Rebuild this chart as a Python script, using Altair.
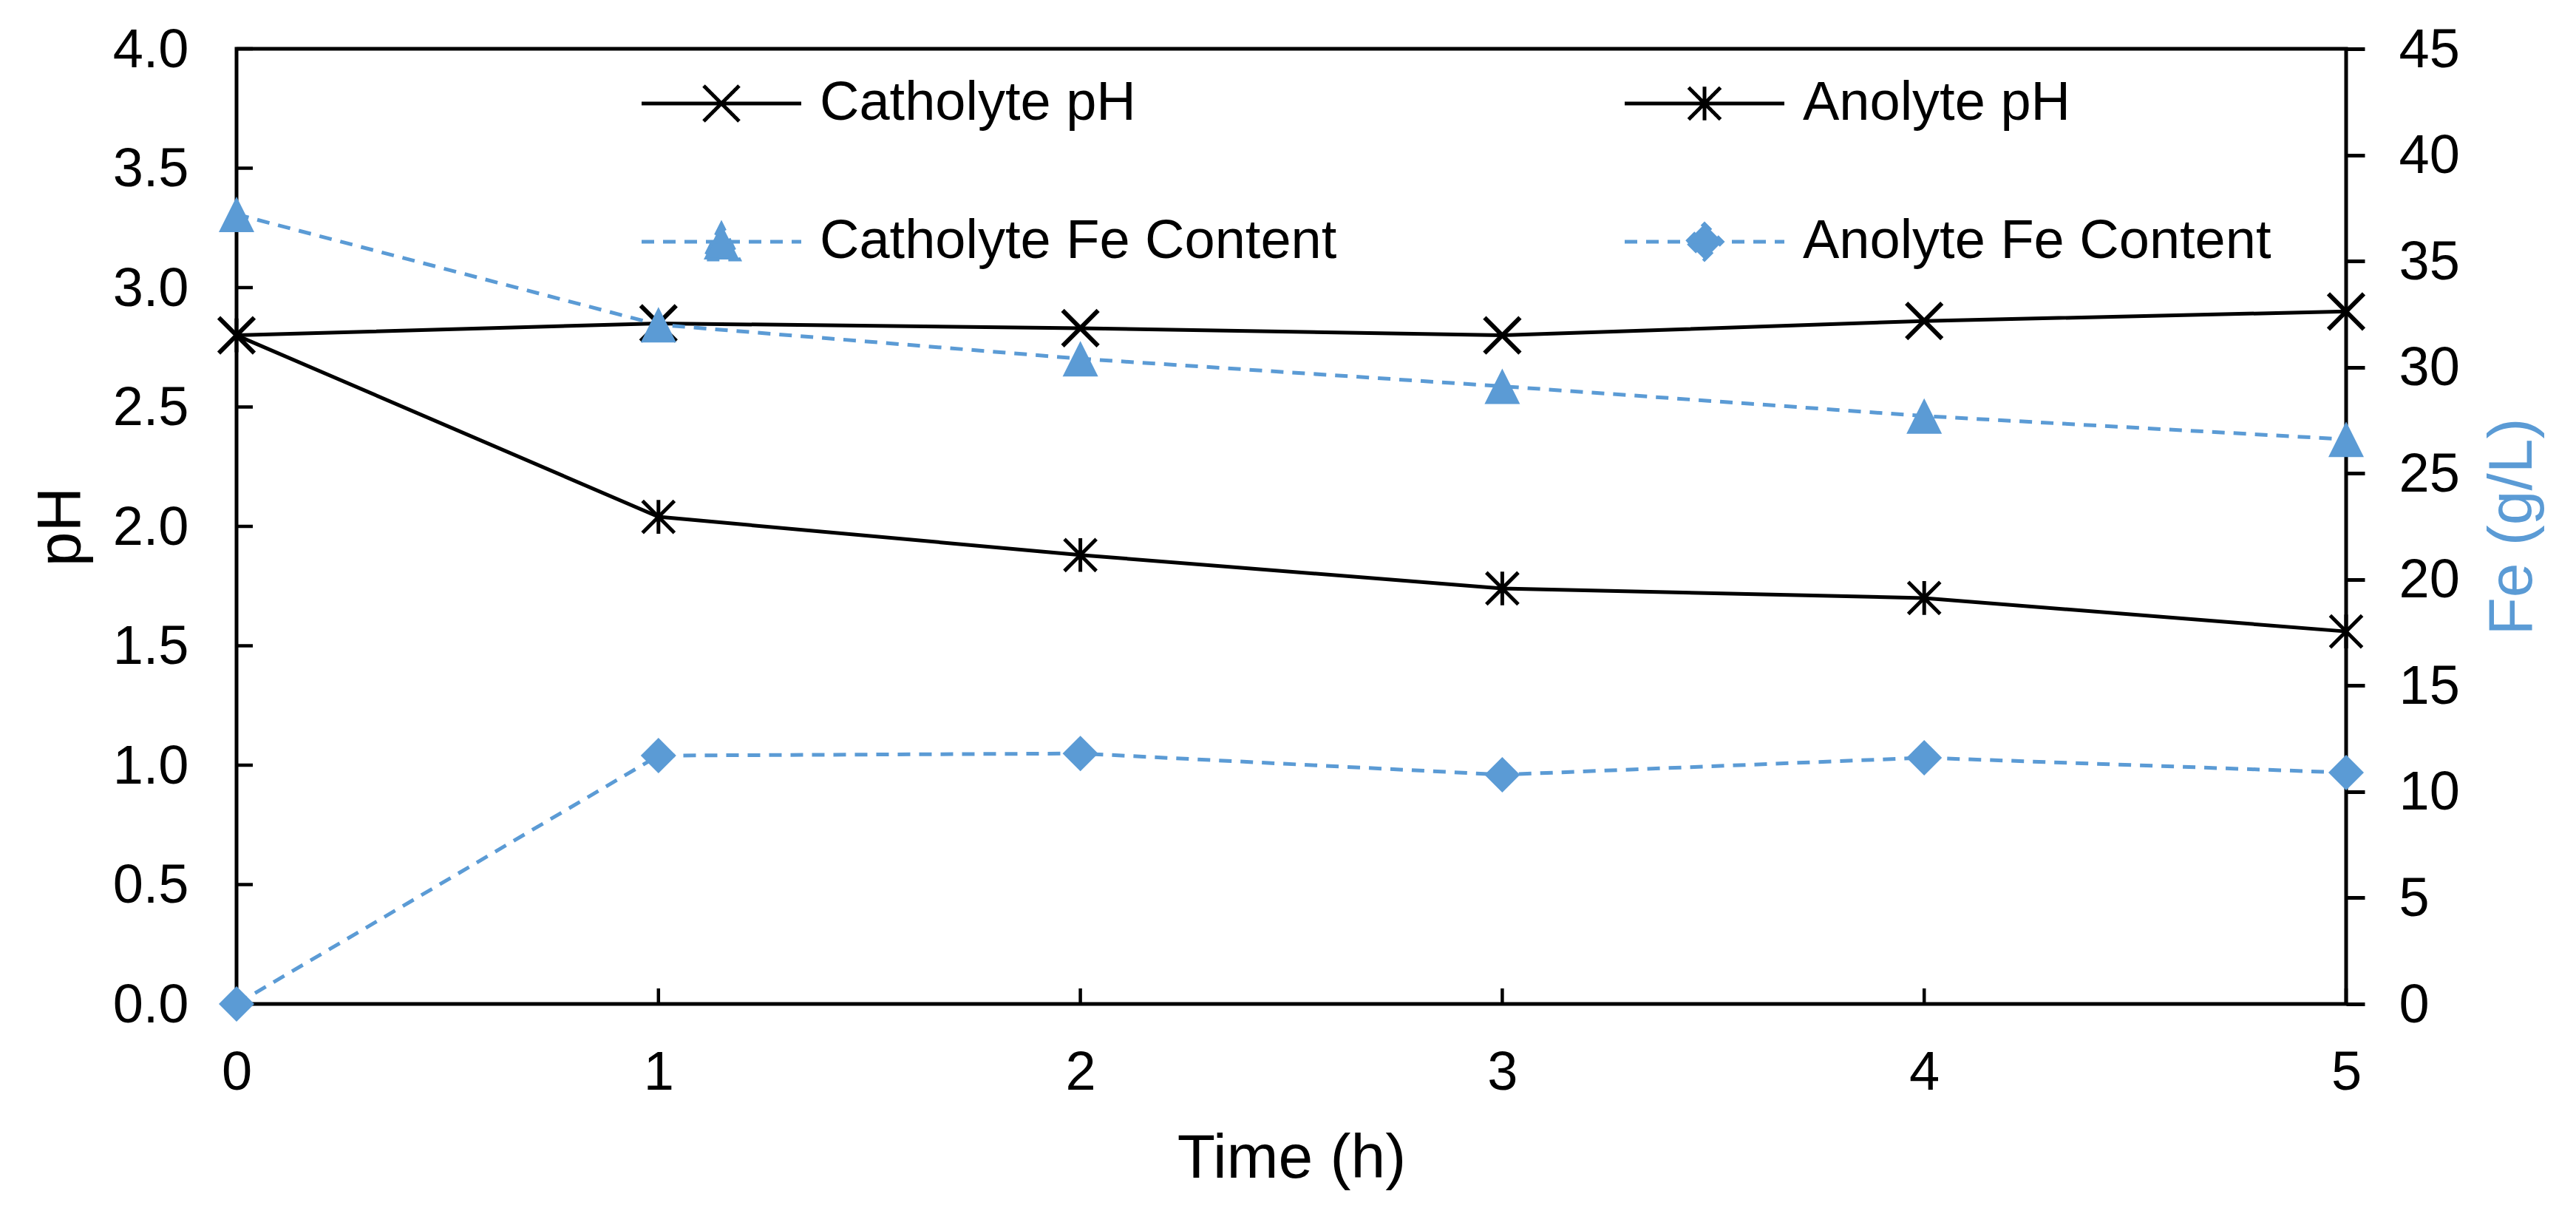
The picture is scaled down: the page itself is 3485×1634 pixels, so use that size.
import altair as alt
import pandas as pd

# ---------------- data ----------------
time_h = [0, 1, 2, 3, 4, 5]
catholyte_ph = [2.80, 2.85, 2.83, 2.80, 2.86, 2.90]
anolyte_ph = [2.80, 2.04, 1.88, 1.74, 1.70, 1.56]
catholyte_fe = [37.2, 32.0, 30.4, 29.1, 27.7, 26.6]
anolyte_fe = [0.0, 11.7, 11.8, 10.8, 11.6, 10.9]

series_names = ["Catholyte pH", "Anolyte pH", "Catholyte Fe Content", "Anolyte Fe Content"]
ph_ticks = [0.0, 0.5, 1.0, 1.5, 2.0, 2.5, 3.0, 3.5, 4.0]
fe_ticks = [0, 5, 10, 15, 20, 25, 30, 35, 40, 45]

# ---------------- style ----------------
BLACK = "#000000"
BLUE = "#5B9BD5"
FONT = "Liberation Sans"
W, H = 2854, 1292
MSIZE = 2304  # marker 48 px
DASH = [17, 12]
LW = 5

X_PATH = "M-1,-1L1,1M-1,1L1,-1"
AST_PATH = "M-0.9,-0.9L0.9,0.9M-0.9,0.9L0.9,-0.9M0,-0.95L0,0.95"
TRI_PATH = "M0,-1L-1,1L1,1Z"
DIA_PATH = "M-1,0L0,-1L1,0L0,1Z"
SEG = "M-4.5,0H4.5"

# legend is laid out column by column: order entries so rows read across
legend_order = [series_names[0], series_names[2], series_names[1], series_names[3]]
legend_paths = [SEG + X_PATH, SEG + TRI_PATH, SEG + AST_PATH, SEG + DIA_PATH]
legend_colors = [BLACK, BLUE, BLACK, BLUE]
legend_dashes = [[1, 0], DASH, [1, 0], DASH]


def long_df(name, vals):
    return pd.DataFrame({"time": time_h, "value": vals, "series": name})


ph_df = pd.concat([long_df(series_names[0], catholyte_ph), long_df(series_names[1], anolyte_ph)])
fe_df = pd.concat([long_df(series_names[2], catholyte_fe), long_df(series_names[3], anolyte_fe)])
ph_tick_df = pd.DataFrame({"value": ph_ticks})
time_tick_df = pd.DataFrame({"time": time_h})

x_enc = alt.X(
    "time:Q",
    scale=alt.Scale(domain=[0, 5], nice=False, zero=False),
    axis=alt.Axis(values=time_h, format="d", title="Time (h)", ticks=False, tickSize=0,
                  labelFlush=False, labelPadding=57, titleY=234, titleBaseline="alphabetic"),
)
y_ph = alt.Y(
    "value:Q",
    scale=alt.Scale(domain=[0, 4], nice=False, zero=False),
    axis=alt.Axis(values=ph_ticks, format=".1f", title="pH", orient="left", ticks=False,
                  tickSize=0, labelFlush=False, labelPadding=65, labelOffset=2, titleAngle=270,
                  titleX=-212, titleY=H / 2, titleBaseline="alphabetic", titleAlign="center"),
)
y_fe = alt.Y(
    "value:Q",
    scale=alt.Scale(domain=[0, 45], nice=False, zero=False),
    axis=alt.Axis(values=fe_ticks, format="d", title="Fe (g/L)", orient="right", ticks=True,
                  tickSize=25, tickWidth=5, tickColor=BLACK, labelFlush=False, labelPadding=46,
                  labelOffset=2, titleColor=BLUE, titleAngle=270, titleX=250, titleY=H / 2,
                  titleBaseline="alphabetic", titleAlign="center"),
)

# ---------------- pH layers ----------------
ph_line = alt.Chart(ph_df).mark_line(color=BLACK, strokeWidth=LW).encode(
    x=x_enc, y=y_ph, detail="series:N")

cath_ph_pts = alt.Chart(ph_df).transform_filter(
    alt.datum.series == series_names[0]
).mark_point(shape=X_PATH, size=MSIZE, filled=False, color=BLACK, strokeWidth=6, opacity=1).encode(
    x=x_enc, y=y_ph)

an_ph_pts = alt.Chart(ph_df).transform_filter(
    alt.datum.series == series_names[1]
).mark_point(shape=AST_PATH, size=MSIZE, filled=False, color=BLACK, strokeWidth=5, opacity=1).encode(
    x=x_enc, y=y_ph)

left_ticks = alt.Chart(ph_tick_df).mark_rule(color=BLACK, strokeWidth=4.5).encode(
    y=y_ph, x=alt.value(0), x2=alt.value(22))

bottom_ticks = alt.Chart(time_tick_df).mark_rule(color=BLACK, strokeWidth=4.5).encode(
    x=x_enc, y=alt.value(H), y2=alt.value(H - 21))


def make_legend():
    return alt.Legend(
        title=None,
        orient="none",
        legendX=619,
        legendY=37,
        columns=2,
        padding=0,
        symbolSize=MSIZE,
        symbolStrokeWidth=LW,
        symbolOpacity=1,
        symbolFillColor=BLACK,
        symbolStrokeColor=BLACK,
        labelFont=FONT,
        labelFontSize=74,
        labelColor=BLACK,
        labelOffset=96,
        labelLimit=2000,
        rowPadding=113,
        columnPadding=379,
    )


legend_layer = alt.Chart(ph_df).mark_point(opacity=0, filled=False).encode(
    x=x_enc,
    y=y_ph,
    shape=alt.Shape("series:N", scale=alt.Scale(domain=legend_order, range=legend_paths),
                    legend=make_legend()),
    color=alt.Color("series:N", scale=alt.Scale(domain=legend_order, range=legend_colors),
                    legend=make_legend()),
    fill=alt.Fill("series:N", scale=alt.Scale(domain=legend_order, range=legend_colors),
                  legend=make_legend()),
    strokeDash=alt.StrokeDash("series:N", scale=alt.Scale(domain=legend_order, range=legend_dashes),
                              legend=make_legend()),
)

ph_layer = alt.layer(ph_line, cath_ph_pts, an_ph_pts, left_ticks, bottom_ticks, legend_layer)

# ---------------- Fe layers ----------------
fe_line = alt.Chart(fe_df).mark_line(color=BLUE, strokeWidth=LW, strokeDash=DASH).encode(
    x=x_enc, y=y_fe, detail="series:N")

cath_fe_pts = alt.Chart(fe_df).transform_filter(
    alt.datum.series == series_names[2]
).mark_point(shape=TRI_PATH, size=MSIZE, filled=True, color=BLUE, opacity=1).encode(x=x_enc, y=y_fe)

an_fe_pts = alt.Chart(fe_df).transform_filter(
    alt.datum.series == series_names[3]
).mark_point(shape=DIA_PATH, size=MSIZE, filled=True, color=BLUE, opacity=1).encode(x=x_enc, y=y_fe)

fe_layer = alt.layer(fe_line, cath_fe_pts, an_fe_pts)

chart = (
    alt.layer(ph_layer, fe_layer)
    .resolve_scale(y="independent")
    .properties(
        width=W,
        height=H,
        autosize=alt.AutoSizeParams(type="none"),
        padding={"left": 312, "top": 58, "right": 295, "bottom": 260},
        background="white",
    )
    .configure_view(stroke=BLACK, strokeWidth=5)
    .configure_axis(
        grid=False,
        domain=False,
        labelFont=FONT,
        labelFontSize=74,
        labelColor=BLACK,
        titleFont=FONT,
        titleFontSize=84,
        titleFontWeight="normal",
        titleColor=BLACK,
    )
)

chart.save("out.html", embed_options={"renderer": "svg", "actions": False})
